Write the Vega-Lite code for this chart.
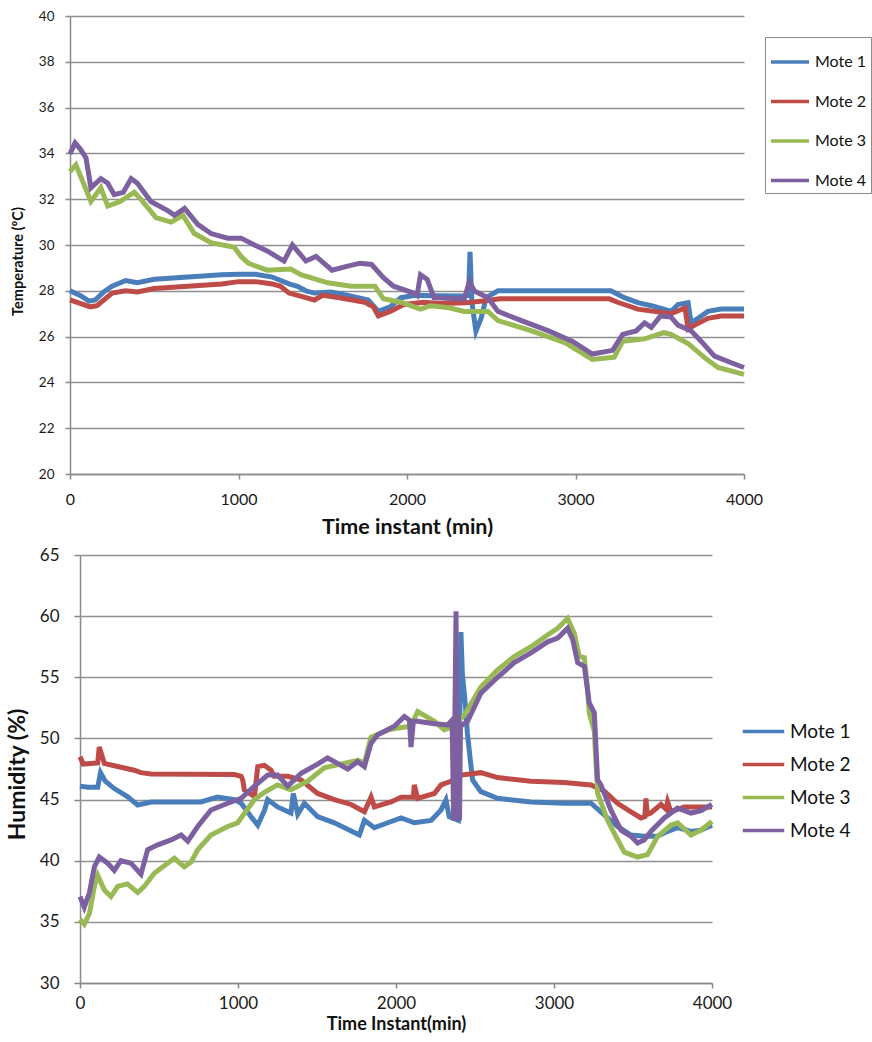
{
  "$schema": "https://vega.github.io/schema/vega-lite/v6.json",
  "background": "white",
  "padding": {"left": 6, "top": 9, "right": 0, "bottom": 0},
  "config": {
    "font": "Lato",
    "view": {"stroke": null},
    "axis": {
      "domainColor": "#8a8a8a", "domainWidth": 1.5,
      "tickColor": "#8a8a8a", "tickWidth": 1.5, "tickSize": 5,
      "gridColor": "#8f8f8f", "gridWidth": 1.3,
      "labelColor": "#1a1a1a", "titleColor": "#111111",
      "labelFont": "Lato", "titleFont": "Lato", "titleFontWeight": "bold",
      "labelFlush": false
    }
  },
  "datasets": {
    "temp": [
      {"m":"Mote 1","t":0,"v":28.0},{"m":"Mote 1","t":60,"v":27.8},{"m":"Mote 1","t":113,"v":27.55},{"m":"Mote 1","t":150,"v":27.6},{"m":"Mote 1","t":200,"v":27.95},{"m":"Mote 1","t":250,"v":28.2},{"m":"Mote 1","t":330,"v":28.45},{"m":"Mote 1","t":400,"v":28.35},{"m":"Mote 1","t":500,"v":28.5},{"m":"Mote 1","t":700,"v":28.6},{"m":"Mote 1","t":900,"v":28.7},{"m":"Mote 1","t":1000,"v":28.72},{"m":"Mote 1","t":1100,"v":28.72},{"m":"Mote 1","t":1200,"v":28.6},{"m":"Mote 1","t":1300,"v":28.3},{"m":"Mote 1","t":1350,"v":28.2},{"m":"Mote 1","t":1400,"v":28.0},{"m":"Mote 1","t":1450,"v":27.9},{"m":"Mote 1","t":1550,"v":27.95},{"m":"Mote 1","t":1650,"v":27.8},{"m":"Mote 1","t":1770,"v":27.6},{"m":"Mote 1","t":1830,"v":27.1},{"m":"Mote 1","t":1900,"v":27.3},{"m":"Mote 1","t":1964,"v":27.7},{"m":"Mote 1","t":2050,"v":27.8},{"m":"Mote 1","t":2150,"v":27.78},{"m":"Mote 1","t":2340,"v":27.77},{"m":"Mote 1","t":2365,"v":27.8},{"m":"Mote 1","t":2374,"v":29.7},{"m":"Mote 1","t":2385,"v":27.5},{"m":"Mote 1","t":2409,"v":26.24},{"m":"Mote 1","t":2440,"v":26.8},{"m":"Mote 1","t":2470,"v":27.7},{"m":"Mote 1","t":2540,"v":28.0},{"m":"Mote 1","t":2800,"v":28.0},{"m":"Mote 1","t":3000,"v":28.0},{"m":"Mote 1","t":3210,"v":28.0},{"m":"Mote 1","t":3290,"v":27.7},{"m":"Mote 1","t":3370,"v":27.48},{"m":"Mote 1","t":3450,"v":27.35},{"m":"Mote 1","t":3525,"v":27.2},{"m":"Mote 1","t":3567,"v":27.1},{"m":"Mote 1","t":3608,"v":27.4},{"m":"Mote 1","t":3668,"v":27.48},{"m":"Mote 1","t":3686,"v":26.6},{"m":"Mote 1","t":3727,"v":26.8},{"m":"Mote 1","t":3786,"v":27.1},{"m":"Mote 1","t":3864,"v":27.2},{"m":"Mote 1","t":4000,"v":27.2},
      {"m":"Mote 2","t":0,"v":27.6},{"m":"Mote 2","t":60,"v":27.45},{"m":"Mote 2","t":120,"v":27.3},{"m":"Mote 2","t":160,"v":27.35},{"m":"Mote 2","t":250,"v":27.9},{"m":"Mote 2","t":330,"v":28.0},{"m":"Mote 2","t":400,"v":27.95},{"m":"Mote 2","t":500,"v":28.1},{"m":"Mote 2","t":700,"v":28.2},{"m":"Mote 2","t":900,"v":28.3},{"m":"Mote 2","t":1000,"v":28.4},{"m":"Mote 2","t":1100,"v":28.4},{"m":"Mote 2","t":1150,"v":28.35},{"m":"Mote 2","t":1200,"v":28.3},{"m":"Mote 2","t":1250,"v":28.2},{"m":"Mote 2","t":1300,"v":27.9},{"m":"Mote 2","t":1400,"v":27.7},{"m":"Mote 2","t":1450,"v":27.6},{"m":"Mote 2","t":1500,"v":27.8},{"m":"Mote 2","t":1600,"v":27.7},{"m":"Mote 2","t":1750,"v":27.5},{"m":"Mote 2","t":1800,"v":27.3},{"m":"Mote 2","t":1830,"v":26.9},{"m":"Mote 2","t":1900,"v":27.1},{"m":"Mote 2","t":1980,"v":27.4},{"m":"Mote 2","t":2100,"v":27.5},{"m":"Mote 2","t":2200,"v":27.45},{"m":"Mote 2","t":2350,"v":27.48},{"m":"Mote 2","t":2450,"v":27.55},{"m":"Mote 2","t":2550,"v":27.65},{"m":"Mote 2","t":3000,"v":27.65},{"m":"Mote 2","t":3200,"v":27.65},{"m":"Mote 2","t":3250,"v":27.5},{"m":"Mote 2","t":3370,"v":27.2},{"m":"Mote 2","t":3567,"v":27.0},{"m":"Mote 2","t":3650,"v":27.25},{"m":"Mote 2","t":3668,"v":26.33},{"m":"Mote 2","t":3707,"v":26.5},{"m":"Mote 2","t":3786,"v":26.8},{"m":"Mote 2","t":3864,"v":26.9},{"m":"Mote 2","t":4000,"v":26.9},
      {"m":"Mote 3","t":0,"v":33.2},{"m":"Mote 3","t":35,"v":33.5},{"m":"Mote 3","t":80,"v":32.7},{"m":"Mote 3","t":124,"v":31.9},{"m":"Mote 3","t":183,"v":32.5},{"m":"Mote 3","t":224,"v":31.7},{"m":"Mote 3","t":297,"v":31.9},{"m":"Mote 3","t":381,"v":32.3},{"m":"Mote 3","t":420,"v":32.0},{"m":"Mote 3","t":510,"v":31.2},{"m":"Mote 3","t":600,"v":31.0},{"m":"Mote 3","t":669,"v":31.3},{"m":"Mote 3","t":738,"v":30.5},{"m":"Mote 3","t":837,"v":30.1},{"m":"Mote 3","t":975,"v":29.9},{"m":"Mote 3","t":1015,"v":29.5},{"m":"Mote 3","t":1060,"v":29.2},{"m":"Mote 3","t":1170,"v":28.9},{"m":"Mote 3","t":1310,"v":28.95},{"m":"Mote 3","t":1370,"v":28.7},{"m":"Mote 3","t":1530,"v":28.35},{"m":"Mote 3","t":1670,"v":28.2},{"m":"Mote 3","t":1810,"v":28.2},{"m":"Mote 3","t":1860,"v":27.65},{"m":"Mote 3","t":1964,"v":27.5},{"m":"Mote 3","t":2080,"v":27.2},{"m":"Mote 3","t":2140,"v":27.35},{"m":"Mote 3","t":2250,"v":27.26},{"m":"Mote 3","t":2340,"v":27.1},{"m":"Mote 3","t":2480,"v":27.1},{"m":"Mote 3","t":2540,"v":26.7},{"m":"Mote 3","t":2740,"v":26.25},{"m":"Mote 3","t":2940,"v":25.73},{"m":"Mote 3","t":3100,"v":25.0},{"m":"Mote 3","t":3230,"v":25.1},{"m":"Mote 3","t":3280,"v":25.8},{"m":"Mote 3","t":3410,"v":25.9},{"m":"Mote 3","t":3525,"v":26.17},{"m":"Mote 3","t":3567,"v":26.1},{"m":"Mote 3","t":3668,"v":25.7},{"m":"Mote 3","t":3766,"v":25.08},{"m":"Mote 3","t":3845,"v":24.65},{"m":"Mote 3","t":4000,"v":24.35},
      {"m":"Mote 4","t":0,"v":33.97},{"m":"Mote 4","t":30,"v":34.46},{"m":"Mote 4","t":60,"v":34.2},{"m":"Mote 4","t":95,"v":33.8},{"m":"Mote 4","t":124,"v":32.5},{"m":"Mote 4","t":183,"v":32.9},{"m":"Mote 4","t":224,"v":32.7},{"m":"Mote 4","t":262,"v":32.2},{"m":"Mote 4","t":316,"v":32.3},{"m":"Mote 4","t":363,"v":32.9},{"m":"Mote 4","t":400,"v":32.7},{"m":"Mote 4","t":480,"v":31.9},{"m":"Mote 4","t":580,"v":31.5},{"m":"Mote 4","t":620,"v":31.3},{"m":"Mote 4","t":680,"v":31.6},{"m":"Mote 4","t":758,"v":30.9},{"m":"Mote 4","t":837,"v":30.5},{"m":"Mote 4","t":935,"v":30.3},{"m":"Mote 4","t":1015,"v":30.3},{"m":"Mote 4","t":1095,"v":30.0},{"m":"Mote 4","t":1170,"v":29.74},{"m":"Mote 4","t":1270,"v":29.3},{"m":"Mote 4","t":1320,"v":30.0},{"m":"Mote 4","t":1400,"v":29.3},{"m":"Mote 4","t":1460,"v":29.5},{"m":"Mote 4","t":1555,"v":28.9},{"m":"Mote 4","t":1660,"v":29.1},{"m":"Mote 4","t":1720,"v":29.2},{"m":"Mote 4","t":1790,"v":29.15},{"m":"Mote 4","t":1860,"v":28.57},{"m":"Mote 4","t":1920,"v":28.2},{"m":"Mote 4","t":2040,"v":27.9},{"m":"Mote 4","t":2060,"v":27.8},{"m":"Mote 4","t":2080,"v":28.7},{"m":"Mote 4","t":2120,"v":28.5},{"m":"Mote 4","t":2160,"v":27.7},{"m":"Mote 4","t":2340,"v":27.64},{"m":"Mote 4","t":2370,"v":28.4},{"m":"Mote 4","t":2400,"v":27.99},{"m":"Mote 4","t":2480,"v":27.7},{"m":"Mote 4","t":2540,"v":27.1},{"m":"Mote 4","t":2660,"v":26.75},{"m":"Mote 4","t":2840,"v":26.25},{"m":"Mote 4","t":2980,"v":25.8},{"m":"Mote 4","t":3100,"v":25.24},{"m":"Mote 4","t":3220,"v":25.4},{"m":"Mote 4","t":3280,"v":26.1},{"m":"Mote 4","t":3360,"v":26.25},{"m":"Mote 4","t":3410,"v":26.6},{"m":"Mote 4","t":3450,"v":26.4},{"m":"Mote 4","t":3505,"v":26.9},{"m":"Mote 4","t":3567,"v":26.85},{"m":"Mote 4","t":3608,"v":26.5},{"m":"Mote 4","t":3686,"v":26.25},{"m":"Mote 4","t":3745,"v":25.8},{"m":"Mote 4","t":3825,"v":25.15},{"m":"Mote 4","t":3924,"v":24.86},{"m":"Mote 4","t":4000,"v":24.65}
    ],
    "hum": [
      {"m":"Mote 1","t":0,"v":46.1},{"m":"Mote 1","t":50,"v":46.0},{"m":"Mote 1","t":112,"v":46.0},{"m":"Mote 1","t":130,"v":47.2},{"m":"Mote 1","t":160,"v":46.5},{"m":"Mote 1","t":217,"v":45.9},{"m":"Mote 1","t":300,"v":45.24},{"m":"Mote 1","t":365,"v":44.56},{"m":"Mote 1","t":450,"v":44.8},{"m":"Mote 1","t":765,"v":44.8},{"m":"Mote 1","t":870,"v":45.2},{"m":"Mote 1","t":977,"v":45.0},{"m":"Mote 1","t":1020,"v":44.7},{"m":"Mote 1","t":1083,"v":43.6},{"m":"Mote 1","t":1125,"v":42.9},{"m":"Mote 1","t":1167,"v":44.1},{"m":"Mote 1","t":1188,"v":45.0},{"m":"Mote 1","t":1250,"v":44.4},{"m":"Mote 1","t":1335,"v":43.9},{"m":"Mote 1","t":1350,"v":45.5},{"m":"Mote 1","t":1378,"v":43.8},{"m":"Mote 1","t":1420,"v":44.7},{"m":"Mote 1","t":1504,"v":43.6},{"m":"Mote 1","t":1610,"v":43.1},{"m":"Mote 1","t":1768,"v":42.1},{"m":"Mote 1","t":1800,"v":43.3},{"m":"Mote 1","t":1863,"v":42.7},{"m":"Mote 1","t":1926,"v":43.0},{"m":"Mote 1","t":2032,"v":43.5},{"m":"Mote 1","t":2116,"v":43.1},{"m":"Mote 1","t":2222,"v":43.3},{"m":"Mote 1","t":2285,"v":44.15},{"m":"Mote 1","t":2316,"v":44.96},{"m":"Mote 1","t":2337,"v":43.6},{"m":"Mote 1","t":2395,"v":43.3},{"m":"Mote 1","t":2411,"v":58.7},{"m":"Mote 1","t":2420,"v":55.3},{"m":"Mote 1","t":2440,"v":52.6},{"m":"Mote 1","t":2452,"v":50.4},{"m":"Mote 1","t":2475,"v":47.7},{"m":"Mote 1","t":2485,"v":46.6},{"m":"Mote 1","t":2537,"v":45.65},{"m":"Mote 1","t":2643,"v":45.1},{"m":"Mote 1","t":2854,"v":44.8},{"m":"Mote 1","t":3065,"v":44.7},{"m":"Mote 1","t":3234,"v":44.7},{"m":"Mote 1","t":3318,"v":43.75},{"m":"Mote 1","t":3402,"v":42.8},{"m":"Mote 1","t":3487,"v":42.1},{"m":"Mote 1","t":3571,"v":42.0},{"m":"Mote 1","t":3656,"v":42.0},{"m":"Mote 1","t":3719,"v":42.4},{"m":"Mote 1","t":3782,"v":42.7},{"m":"Mote 1","t":3867,"v":42.4},{"m":"Mote 1","t":3930,"v":42.5},{"m":"Mote 1","t":4000,"v":42.9},
      {"m":"Mote 2","t":0,"v":48.5},{"m":"Mote 2","t":20,"v":47.9},{"m":"Mote 2","t":112,"v":48.0},{"m":"Mote 2","t":122,"v":49.3},{"m":"Mote 2","t":154,"v":47.96},{"m":"Mote 2","t":238,"v":47.7},{"m":"Mote 2","t":343,"v":47.4},{"m":"Mote 2","t":385,"v":47.2},{"m":"Mote 2","t":450,"v":47.1},{"m":"Mote 2","t":977,"v":47.05},{"m":"Mote 2","t":1020,"v":46.9},{"m":"Mote 2","t":1030,"v":46.6},{"m":"Mote 2","t":1040,"v":45.8},{"m":"Mote 2","t":1104,"v":45.24},{"m":"Mote 2","t":1125,"v":47.7},{"m":"Mote 2","t":1167,"v":47.8},{"m":"Mote 2","t":1209,"v":47.4},{"m":"Mote 2","t":1230,"v":46.9},{"m":"Mote 2","t":1315,"v":46.9},{"m":"Mote 2","t":1400,"v":46.6},{"m":"Mote 2","t":1504,"v":45.5},{"m":"Mote 2","t":1610,"v":45.0},{"m":"Mote 2","t":1716,"v":44.6},{"m":"Mote 2","t":1800,"v":44.0},{"m":"Mote 2","t":1842,"v":45.2},{"m":"Mote 2","t":1863,"v":44.4},{"m":"Mote 2","t":1968,"v":44.8},{"m":"Mote 2","t":2032,"v":45.2},{"m":"Mote 2","t":2110,"v":45.2},{"m":"Mote 2","t":2116,"v":46.2},{"m":"Mote 2","t":2137,"v":45.1},{"m":"Mote 2","t":2243,"v":45.5},{"m":"Mote 2","t":2285,"v":46.2},{"m":"Mote 2","t":2348,"v":46.5},{"m":"Mote 2","t":2411,"v":47.0},{"m":"Mote 2","t":2537,"v":47.2},{"m":"Mote 2","t":2643,"v":46.8},{"m":"Mote 2","t":2854,"v":46.5},{"m":"Mote 2","t":3065,"v":46.4},{"m":"Mote 2","t":3234,"v":46.2},{"m":"Mote 2","t":3318,"v":45.7},{"m":"Mote 2","t":3402,"v":44.7},{"m":"Mote 2","t":3487,"v":44.0},{"m":"Mote 2","t":3550,"v":43.5},{"m":"Mote 2","t":3575,"v":43.6},{"m":"Mote 2","t":3582,"v":45.1},{"m":"Mote 2","t":3590,"v":43.8},{"m":"Mote 2","t":3613,"v":43.9},{"m":"Mote 2","t":3677,"v":44.6},{"m":"Mote 2","t":3710,"v":44.2},{"m":"Mote 2","t":3719,"v":44.8},{"m":"Mote 2","t":3740,"v":44.0},{"m":"Mote 2","t":3824,"v":44.4},{"m":"Mote 2","t":3909,"v":44.4},{"m":"Mote 2","t":4000,"v":44.4},
      {"m":"Mote 3","t":0,"v":35.2},{"m":"Mote 3","t":27,"v":34.8},{"m":"Mote 3","t":60,"v":35.7},{"m":"Mote 3","t":91,"v":37.9},{"m":"Mote 3","t":112,"v":38.8},{"m":"Mote 3","t":154,"v":37.6},{"m":"Mote 3","t":196,"v":37.06},{"m":"Mote 3","t":238,"v":37.9},{"m":"Mote 3","t":300,"v":38.1},{"m":"Mote 3","t":365,"v":37.4},{"m":"Mote 3","t":407,"v":37.9},{"m":"Mote 3","t":470,"v":38.98},{"m":"Mote 3","t":555,"v":39.8},{"m":"Mote 3","t":597,"v":40.2},{"m":"Mote 3","t":660,"v":39.5},{"m":"Mote 3","t":703,"v":39.9},{"m":"Mote 3","t":745,"v":40.9},{"m":"Mote 3","t":829,"v":42.1},{"m":"Mote 3","t":935,"v":42.8},{"m":"Mote 3","t":998,"v":43.1},{"m":"Mote 3","t":1020,"v":43.5},{"m":"Mote 3","t":1104,"v":45.0},{"m":"Mote 3","t":1167,"v":45.6},{"m":"Mote 3","t":1250,"v":46.2},{"m":"Mote 3","t":1335,"v":45.8},{"m":"Mote 3","t":1441,"v":46.5},{"m":"Mote 3","t":1546,"v":47.6},{"m":"Mote 3","t":1650,"v":47.9},{"m":"Mote 3","t":1757,"v":48.2},{"m":"Mote 3","t":1800,"v":48.0},{"m":"Mote 3","t":1842,"v":50.1},{"m":"Mote 3","t":1950,"v":50.7},{"m":"Mote 3","t":2032,"v":50.9},{"m":"Mote 3","t":2095,"v":51.0},{"m":"Mote 3","t":2137,"v":52.2},{"m":"Mote 3","t":2243,"v":51.4},{"m":"Mote 3","t":2306,"v":50.7},{"m":"Mote 3","t":2360,"v":51.0},{"m":"Mote 3","t":2432,"v":51.9},{"m":"Mote 3","t":2537,"v":54.2},{"m":"Mote 3","t":2643,"v":55.6},{"m":"Mote 3","t":2748,"v":56.7},{"m":"Mote 3","t":2854,"v":57.5},{"m":"Mote 3","t":2959,"v":58.46},{"m":"Mote 3","t":3023,"v":59.0},{"m":"Mote 3","t":3086,"v":59.8},{"m":"Mote 3","t":3128,"v":58.6},{"m":"Mote 3","t":3160,"v":56.7},{"m":"Mote 3","t":3192,"v":56.6},{"m":"Mote 3","t":3213,"v":54.0},{"m":"Mote 3","t":3223,"v":52.1},{"m":"Mote 3","t":3255,"v":50.6},{"m":"Mote 3","t":3276,"v":45.5},{"m":"Mote 3","t":3339,"v":43.3},{"m":"Mote 3","t":3392,"v":41.97},{"m":"Mote 3","t":3445,"v":40.7},{"m":"Mote 3","t":3529,"v":40.3},{"m":"Mote 3","t":3592,"v":40.5},{"m":"Mote 3","t":3656,"v":42.0},{"m":"Mote 3","t":3740,"v":42.9},{"m":"Mote 3","t":3782,"v":43.1},{"m":"Mote 3","t":3867,"v":42.1},{"m":"Mote 3","t":3930,"v":42.5},{"m":"Mote 3","t":4000,"v":43.2},
      {"m":"Mote 4","t":0,"v":37.06},{"m":"Mote 4","t":27,"v":36.2},{"m":"Mote 4","t":60,"v":37.4},{"m":"Mote 4","t":91,"v":39.5},{"m":"Mote 4","t":122,"v":40.3},{"m":"Mote 4","t":175,"v":39.8},{"m":"Mote 4","t":217,"v":39.2},{"m":"Mote 4","t":259,"v":40.0},{"m":"Mote 4","t":322,"v":39.8},{"m":"Mote 4","t":386,"v":38.9},{"m":"Mote 4","t":428,"v":40.9},{"m":"Mote 4","t":492,"v":41.3},{"m":"Mote 4","t":576,"v":41.7},{"m":"Mote 4","t":640,"v":42.1},{"m":"Mote 4","t":682,"v":41.6},{"m":"Mote 4","t":745,"v":42.8},{"m":"Mote 4","t":829,"v":44.15},{"m":"Mote 4","t":935,"v":44.7},{"m":"Mote 4","t":1020,"v":45.1},{"m":"Mote 4","t":1104,"v":46.1},{"m":"Mote 4","t":1188,"v":47.0},{"m":"Mote 4","t":1250,"v":47.0},{"m":"Mote 4","t":1315,"v":46.1},{"m":"Mote 4","t":1400,"v":47.15},{"m":"Mote 4","t":1504,"v":47.9},{"m":"Mote 4","t":1567,"v":48.4},{"m":"Mote 4","t":1610,"v":48.1},{"m":"Mote 4","t":1694,"v":47.5},{"m":"Mote 4","t":1757,"v":48.1},{"m":"Mote 4","t":1800,"v":47.7},{"m":"Mote 4","t":1842,"v":49.6},{"m":"Mote 4","t":1884,"v":50.3},{"m":"Mote 4","t":1990,"v":51.0},{"m":"Mote 4","t":2053,"v":51.8},{"m":"Mote 4","t":2085,"v":51.5},{"m":"Mote 4","t":2095,"v":49.3},{"m":"Mote 4","t":2110,"v":51.4},{"m":"Mote 4","t":2137,"v":51.4},{"m":"Mote 4","t":2243,"v":51.2},{"m":"Mote 4","t":2327,"v":51.1},{"m":"Mote 4","t":2355,"v":51.5},{"m":"Mote 4","t":2365,"v":43.3},{"m":"Mote 4","t":2372,"v":51.0},{"m":"Mote 4","t":2380,"v":60.4},{"m":"Mote 4","t":2388,"v":43.3},{"m":"Mote 4","t":2395,"v":52.0},{"m":"Mote 4","t":2402,"v":43.3},{"m":"Mote 4","t":2408,"v":51.0},{"m":"Mote 4","t":2453,"v":51.4},{"m":"Mote 4","t":2537,"v":53.7},{"m":"Mote 4","t":2643,"v":55.0},{"m":"Mote 4","t":2748,"v":56.2},{"m":"Mote 4","t":2854,"v":57.0},{"m":"Mote 4","t":2959,"v":57.9},{"m":"Mote 4","t":3023,"v":58.2},{"m":"Mote 4","t":3086,"v":59.0},{"m":"Mote 4","t":3118,"v":58.1},{"m":"Mote 4","t":3150,"v":56.2},{"m":"Mote 4","t":3192,"v":55.9},{"m":"Mote 4","t":3223,"v":52.9},{"m":"Mote 4","t":3255,"v":52.1},{"m":"Mote 4","t":3276,"v":46.6},{"m":"Mote 4","t":3297,"v":46.2},{"m":"Mote 4","t":3360,"v":44.15},{"m":"Mote 4","t":3424,"v":42.5},{"m":"Mote 4","t":3487,"v":42.0},{"m":"Mote 4","t":3529,"v":41.45},{"m":"Mote 4","t":3571,"v":41.7},{"m":"Mote 4","t":3613,"v":42.4},{"m":"Mote 4","t":3698,"v":43.5},{"m":"Mote 4","t":3782,"v":44.3},{"m":"Mote 4","t":3867,"v":43.9},{"m":"Mote 4","t":3930,"v":44.1},{"m":"Mote 4","t":4000,"v":44.6}
    ]
  },
  "spacing": 8,
  "resolve": {"scale": {"color": "independent", "x": "independent", "y": "independent"}, "legend": {"color": "independent"}},
  "vconcat": [
    {
      "width": 674,
      "height": 458,
      "data": {"name": "temp"},
      "mark": {"type": "line", "strokeWidth": 5},
      "encoding": {
        "x": {"field": "t", "type": "quantitative", "scale": {"domain": [0, 4000], "nice": false},
          "axis": {"values": [0, 1000, 2000, 3000, 4000], "format": "d", "grid": false, "title": "Time instant  (min)", "labelFontSize": 16, "titleFontSize": 21.5, "labelPadding": 12, "titlePadding": 9}},
        "y": {"field": "v", "type": "quantitative", "scale": {"domain": [20, 40], "nice": false, "zero": false},
          "axis": {"values": [20, 22, 24, 26, 28, 30, 32, 34, 36, 38, 40], "grid": true, "title": "Temperature (ºC)", "labelFontSize": 13.5, "titleFontSize": 14.5, "labelPadding": 11, "titleX": -45, "titleY": 245}},
        "color": {"field": "m", "type": "nominal",
          "scale": {"domain": ["Mote 1", "Mote 2", "Mote 3", "Mote 4"], "range": ["#4a7ebb", "#be4b48", "#98b954", "#7d60a0"]},
          "legend": {"orient": "none", "legendX": 695, "legendY": 21, "title": null, "symbolType": "stroke", "symbolSize": 1444, "symbolStrokeWidth": 3.5, "labelFontSize": 16, "labelColor": "#111111", "labelOffset": 4, "strokeColor": "#8a8a8a", "padding": 4, "rowPadding": 10.5}}
      }
    },
    {
      "width": 642,
      "height": 428,
      "data": {"name": "hum"},
      "mark": {"type": "line", "strokeWidth": 5},
      "encoding": {
        "x": {"field": "t", "type": "quantitative", "scale": {"domain": [0, 4000], "nice": false, "range": [10, 642]},
          "axis": {"values": [0, 1000, 2000, 3000, 4000], "format": "d", "grid": false, "title": "Time Instant(min)", "labelFontSize": 17, "titleFontSize": 18, "labelPadding": 7, "titlePadding": 4}},
        "y": {"field": "v", "type": "quantitative", "scale": {"domain": [30, 65], "nice": false, "zero": false},
          "axis": {"values": [30, 35, 40, 45, 50, 55, 60, 65], "offset": -10, "grid": true, "title": "Humidity (%)", "labelFontSize": 17, "titleFontSize": 23, "tickSize": 6, "labelPadding": 15, "titleX": -51, "titleY": 219}},
        "color": {"field": "m", "type": "nominal",
          "scale": {"domain": ["Mote 1", "Mote 2", "Mote 3", "Mote 4"], "range": ["#4a7ebb", "#be4b48", "#98b954", "#7d60a0"]},
          "legend": {"orient": "none", "legendX": 671, "legendY": 154, "title": null, "symbolType": "stroke", "symbolSize": 1722, "symbolStrokeWidth": 3.5, "labelFontSize": 19, "labelColor": "#111111", "labelOffset": 4, "padding": 0, "rowPadding": 0}}
      }
    }
  ]
}
